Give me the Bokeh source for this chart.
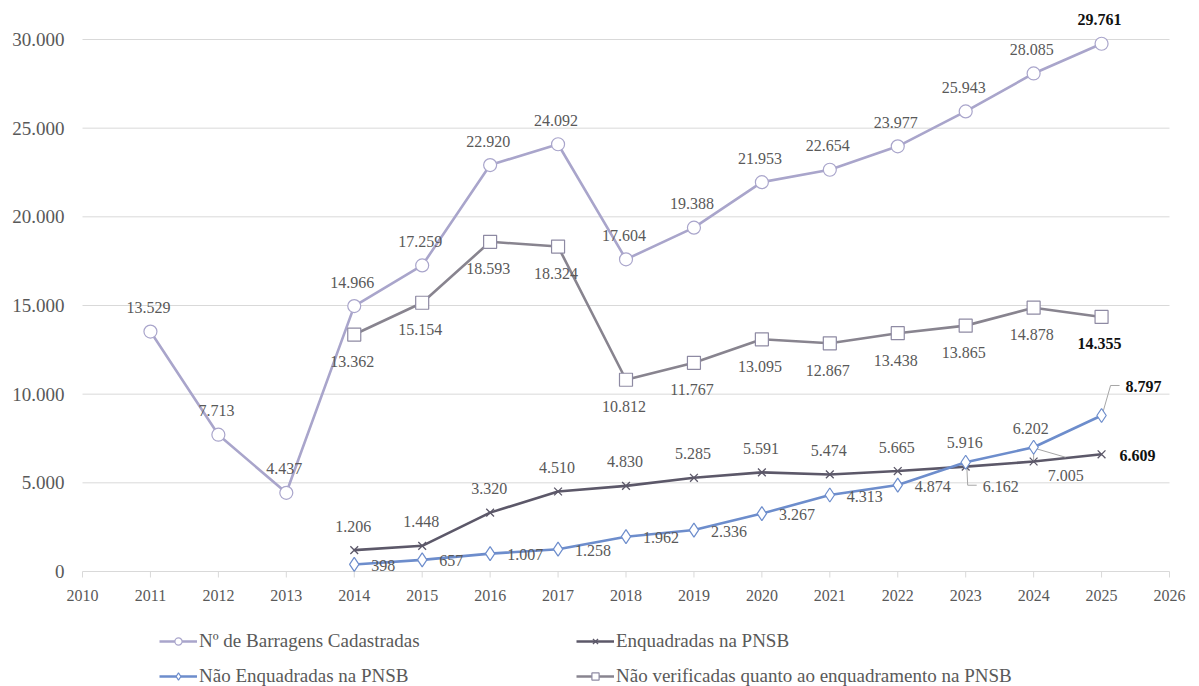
from bokeh.plotting import figure
from bokeh.models import ColumnDataSource, FixedTicker, Legend, LegendItem, Range1d
from bokeh.core.properties import value
from bokeh.embed import file_html
from bokeh.resources import INLINE

# ---------------- data ----------------
years_total = [2011, 2012, 2013, 2014, 2015, 2016, 2017, 2018, 2019, 2020, 2021, 2022, 2023, 2024, 2025]
total = [13529, 7713, 4437, 14966, 17259, 22920, 24092, 17604, 19388, 21953, 22654, 23977, 25943, 28085, 29761]

years = [2014, 2015, 2016, 2017, 2018, 2019, 2020, 2021, 2022, 2023, 2024, 2025]
enquadradas = [1206, 1448, 3320, 4510, 4830, 5285, 5591, 5474, 5665, 5916, 6202, 6609]
nao_enquadradas = [398, 657, 1007, 1258, 1962, 2336, 3267, 4313, 4874, 6162, 7005, 8797]
nao_verificadas = [13362, 15154, 18593, 18324, 10812, 11767, 13095, 12867, 13438, 13865, 14878, 14355]

series_names = [
    "Nº de Barragens Cadastradas",
    "Enquadradas na PNSB",
    "Não Enquadradas na PNSB",
    "Não verificadas quanto ao enquadramento na PNSB",
]
x_ticks = list(range(2010, 2027))
x_tick_labels = [str(t) for t in x_ticks]
y_ticks = list(range(0, 30001, 5000))

# ---------------- style ----------------
FONT = "Liberation Serif"
C_TOTAL = "#A9A5CB"
C_ENQ = "#5C5869"
C_NAO = "#6D8DCC"
C_NVER = "#88848F"
C_TXT = "#595959"
C_GRID = "#D9D9D9"

W, H = 1199, 686
BL, BR, BT = 65, 0, 4
LEFT_PX, RIGHT_PX = 82, 1169   # canvas columns of the first / last year tick
ZERO_PX, TOP_PX = 571, 39      # canvas rows of value 0 / 30000
ppy = (RIGHT_PX - LEFT_PX) / (x_ticks[-1] - x_ticks[0])   # pixels per year
ppu = (ZERO_PX - TOP_PX) / float(y_ticks[-1])              # pixels per unit
X0 = x_ticks[0] - (LEFT_PX - BL) / ppy
X1 = x_ticks[-1] + (W - BR - RIGHT_PX) / ppy
Y0 = -(H - ZERO_PX) / ppu
Y1 = y_ticks[-1] + (TOP_PX - BT) / ppu

def fmt(v):
    return f"{v:,}".replace(",", ".")

p = figure(width=W, height=H, output_backend="svg", toolbar_location=None,
           x_range=Range1d(X0, X1), y_range=Range1d(Y0, Y1), x_axis_location=None,
           min_border_left=BL, min_border_right=BR, min_border_top=BT, min_border_bottom=0)
p.outline_line_color = None
p.background_fill_color = "white"
p.border_fill_color = "white"
p.xgrid.visible = False
p.ygrid.visible = False

# y axis (labels only)
p.yaxis.ticker = FixedTicker(ticks=y_ticks)
p.yaxis.major_label_overrides = {t: fmt(t) for t in y_ticks}
p.yaxis.axis_line_color = None
p.yaxis.major_tick_line_color = None
p.yaxis.minor_tick_line_color = None
p.yaxis.major_tick_out = 0
p.yaxis.major_tick_in = 0
p.yaxis.major_label_text_font = FONT
p.yaxis.major_label_text_font_size = "19px"
p.yaxis.major_label_text_color = C_TXT
p.yaxis.major_label_standoff = 1

# horizontal gridlines between the first and last year (the 0 line is the x axis line)
p.segment(x0=[x_ticks[0]] * len(y_ticks), y0=y_ticks, x1=[x_ticks[-1]] * len(y_ticks), y1=y_ticks,
          line_color=C_GRID, line_width=1)

# x axis tick marks and year labels
tick_len = 6 / ppu
p.segment(x0=x_ticks, y0=[0] * len(x_ticks), x1=x_ticks, y1=[-tick_len] * len(x_ticks),
          line_color=C_GRID, line_width=1)
p.text(x=x_ticks, y=[0] * len(x_ticks), text=x_tick_labels, y_offset=24,
       text_align="center", text_baseline="middle", text_color=C_TXT,
       text_font=value(FONT), text_font_size="16px")

# ---------------- lines ----------------
lw = 2.6
r_tot_l = p.line(years_total, total, line_color=C_TOTAL, line_width=lw)
r_nver_l = p.line(years, nao_verificadas, line_color=C_NVER, line_width=lw)
r_enq_l = p.line(years, enquadradas, line_color=C_ENQ, line_width=lw)
r_nao_l = p.line(years, nao_enquadradas, line_color=C_NAO, line_width=lw)

# leader lines (screen-pixel offsets from the data point)
leaders = [
    (years, nao_enquadradas, 2023, [(1, 2), (2, 23), (11, 23)]),
    (years, nao_enquadradas, 2024, [(1, 1), (32, 10)]),
    (years, nao_enquadradas, 2025, [(1, -2), (9, -30), (18, -30)]),
    (years, enquadradas, 2024, [(0, -1), (0, -14)]),
]
lx, ly = [], []
for yrs, vals, yr, pts in leaders:
    v = vals[yrs.index(yr)]
    lx.append([yr + dx / ppy for dx, dy in pts])
    ly.append([v - dy / ppu for dx, dy in pts])
p.multi_line(lx, ly, line_color="#A6A6A6", line_width=1)

# ---------------- markers ----------------
r_tot_m = p.scatter(years_total, total, marker="circle", size=13, fill_color="white",
                    line_color=C_TOTAL, line_width=1.2)
r_nver_m = p.scatter(years, nao_verificadas, marker="square", size=13, fill_color="white",
                     line_color="#8E8AA3", line_width=1.2)
r_enq_m = p.scatter(years, enquadradas, marker="x", size=11, line_color=C_ENQ, line_width=1.3)
r_nao_m = p.scatter(years, nao_enquadradas, marker="diamond", size=14,
                    fill_color="white", line_color=C_NAO, line_width=1.2)

# ---------------- data labels ----------------
default_pos = {
    "total": (-2, -24, "center"),
    "nver": (-2, 27, "center"),
    "enq": (-1, -24, "center"),
    "nao": (17, 1, "left"),
}
override_pos = {
    ("enq", 2024): (-3, -33, "center"),
    ("enq", 2025): (18, 1, "left"),
    ("nao", 2023): (17, 24, "left"),
    ("nao", 2024): (32, 28, "center"),
    ("nao", 2025): (24, -29, "left"),
}
bold_last = {"total", "nver", "enq", "nao"}

lab = dict(x=[], y=[], text=[], dx=[], dy=[], align=[], color=[], style=[])
for key, yrs, vals in [("total", years_total, total), ("nver", years, nao_verificadas),
                       ("enq", years, enquadradas), ("nao", years, nao_enquadradas)]:
    for i, (yr, v) in enumerate(zip(yrs, vals)):
        dx, dy, al = override_pos.get((key, yr), default_pos[key])
        last = (i == len(vals) - 1) and key in bold_last
        lab["x"].append(yr)
        lab["y"].append(v)
        lab["text"].append(fmt(v))
        lab["dx"].append(dx)
        lab["dy"].append(dy)
        lab["align"].append(al)
        lab["color"].append("#111111" if last else C_TXT)
        lab["style"].append("bold" if last else "normal")

p.text(x="x", y="y", text="text", x_offset="dx", y_offset="dy", text_align="align",
       text_baseline="middle", text_color="color", text_font_style="style",
       text_font=value(FONT), text_font_size="16px", source=ColumnDataSource(lab))

# ---------------- legend ----------------
items = [
    LegendItem(label=series_names[0], renderers=[r_tot_l, r_tot_m]),
    LegendItem(label=series_names[1], renderers=[r_enq_l, r_enq_m]),
    LegendItem(label=series_names[2], renderers=[r_nao_l, r_nao_m]),
    LegendItem(label=series_names[3], renderers=[r_nver_l, r_nver_m]),
]
legend = Legend(items=items, ncols=2, orientation="horizontal",
                location=(159 - BL, -1))
legend.label_text_font = FONT
legend.label_text_font_size = "19px"
legend.label_text_color = C_TXT
legend.label_width = 364
legend.label_height = 18
legend.glyph_width = 38
legend.glyph_height = 18
legend.label_standoff = 2
legend.spacing = 13
legend.padding = 0
legend.margin = 0
legend.border_line_color = None
legend.background_fill_alpha = 0
p.add_layout(legend, "center")

open("out.html", "w").write(file_html(p, INLINE))
